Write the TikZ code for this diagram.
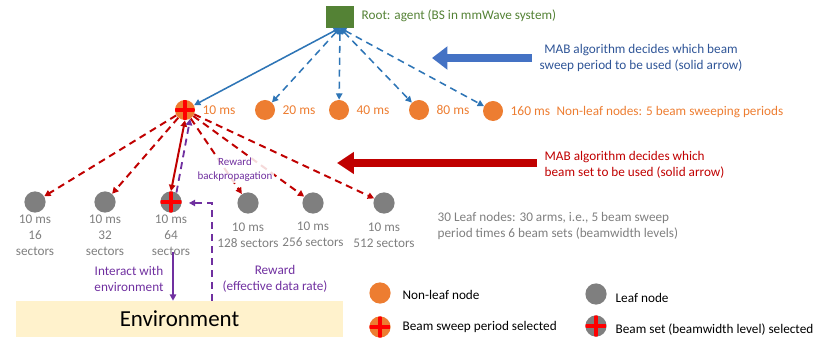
\documentclass[tikz,border=0pt]{standalone}
\usepackage{fontspec}
\setmainfont{Carlito}
\usetikzlibrary{arrows.meta}

\definecolor{rootgreen}{HTML}{548235}
\definecolor{nlorange}{HTML}{ED7D31}
\definecolor{leafgray}{HTML}{7F7F7F}
\definecolor{linkblue}{HTML}{2E75B6}
\definecolor{arrowblue}{HTML}{4472C4}
\definecolor{textblue}{HTML}{2F5597}
\definecolor{mabred}{HTML}{C00000}
\definecolor{rwpurple}{HTML}{7030A0}
\definecolor{envyellow}{HTML}{FFF2CC}

\tikzset{
  period/.style={circle, fill=nlorange, minimum size=0.5cm, inner sep=0pt},
  leaf/.style={circle, fill=leafgray, minimum size=0.53cm, inner sep=0pt},
  chosen/.style={path picture={
      \draw[red, line width=2.2pt]
        (path picture bounding box.north) -- (path picture bounding box.south)
        (path picture bounding box.west) -- (path picture bounding box.east);}},
  txt/.style={font=\fontsize{9.4}{11.4}\selectfont, inner sep=1pt},
  dashlink/.style={dash pattern=on 5pt off 3.5pt},
  bluelink/.style={draw=linkblue, line width=1.1pt,
      {Triangle[length=4.5pt,width=4.5pt]}-{Triangle[length=4.5pt,width=4.5pt]}},
  redlink/.style={draw=mabred, line width=1.4pt, -{Triangle[length=4.5pt,width=4.5pt]}},
  purplelink/.style={draw=rwpurple, line width=1.3pt, -{Triangle[length=4.5pt,width=4.5pt]}},
}

\begin{document}
\begin{tikzpicture}[x=0.025cm, y=-0.025cm]
  \useasboundingbox (0,0) rectangle (822,347);

  % Arrel
  \node[fill=rootgreen, minimum width=0.68cm, minimum height=0.53cm, inner sep=0pt] (root) at (340,17) {};
  \node[txt, text=rootgreen, anchor=west] (rootlbl) at (360,16) {Root: agent (BS in mmWave system)};

  % Nodes no fulla: periodes d'escombrat
  \node[period, chosen] (p10) at (185,110) {};
  \node[period] (p20) at (265,110) {};
  \node[period] (p40) at (339,110) {};
  \node[period] (p80) at (419,110) {};
  \node[period] (p160) at (493,111) {};
  \foreach \p/\t in {p10/10 ms, p20/20 ms, p40/40 ms, p80/80 ms, p160/160 ms}
    \node[txt, font=\fontsize{9.6}{12}\selectfont, text=nlorange, anchor=west, xshift=4pt] (\p lbl) at (\p.east) {\t};
  \node[txt, text=nlorange, anchor=west] (nonleaf) at (555,112) {Non-leaf nodes: 5 beam sweeping periods};

  % Fletxes blaves
  \draw[bluelink] (root.south) -- (p10);
  \foreach \p in {p20, p40, p80, p160}
    \draw[bluelink, dashlink] (root.south) -- (\p);

  \coordinate (bs) at (532,58);
  \coordinate (be) at (432,58);
  \draw[arrowblue, line width=5pt, -{Triangle[length=11pt,width=16pt]}] (bs) -- (be);
  \node[txt, text=textblue, align=center] (bluetxt) at (641,58) {MAB algorithm decides which beam\\sweep period to be used (solid arrow)};

  % Nodes fulla
  \node[leaf] (l16) at (35,202) {};
  \node[leaf] (l32) at (105,202) {};
  \node[leaf, chosen] (l64) at (171,202) {};
  \node[leaf] (l128) at (248,203) {};
  \node[leaf] (l256) at (313,203) {};
  \node[leaf] (l512) at (384,203) {};
  \node[txt, text=leafgray, align=center] (lab16) at (35,235) {10 ms\\16\\sectors};
  \node[txt, text=leafgray, align=center] (lab32) at (105,235) {10 ms\\32\\sectors};
  \node[txt, text=leafgray, align=center] (lab64) at (171,235) {10 ms\\64\\sectors};
  \node[txt, text=leafgray, align=center] (lab128) at (248,235) {10 ms\\128 sectors};
  \node[txt, text=leafgray, align=center] (lab256) at (313,234) {10 ms\\256 sectors};
  \node[txt, text=leafgray, align=center] (lab512) at (384,235) {10 ms\\512 sectors};
  \node[txt, text=leafgray, anchor=west, align=left] (leaftxt) at (436,226) {30 Leaf nodes: 30 arms, i.e., 5 beam sweep\\period times 6 beam sets (beamwidth levels)};

  % Fletxes vermelles
  \foreach \l in {l16, l32, l128, l256, l512}
    \draw[redlink, dashlink] (p10) -- (\l);
  \draw[redlink, {Triangle[length=4.5pt,width=4.5pt]}-{Triangle[length=4.5pt,width=4.5pt]}] (p10.south) -- (l64.north);

  \coordinate (rs) at (537,163);
  \coordinate (re) at (337,163);
  \draw[mabred, line width=6pt, -{Triangle[length=12pt,width=15pt]}] (rs) -- (re);
  \node[txt, text=mabred, anchor=west, align=left] (redtxt) at (543,165) {MAB algorithm decides which\\beam set to be used (solid arrow)};

  % Recompensa
  \node[txt, text=rwpurple, align=center, font=\fontsize{7.8}{10}\selectfont, fill=white, fill opacity=0.85, text opacity=1] (backlbl) at (235,170) {Reward\\backpropagation};
  \draw[purplelink, dashlink] (l64.60) -- (p10.-60);

  % Entorn
  \node[fill=envyellow, minimum width=8.175cm, minimum height=0.9cm, inner sep=0pt, font=\fontsize{16.3}{18}\selectfont] (env) at (179.5,319) {Environment};
  \coordinate (ia) at (173,252);
  \draw[purplelink] (ia) -- (ia |- env.north);
  \coordinate (fb) at (212,203);
  \draw[purplelink, dashlink, shorten >=5pt] (env.north -| fb) -- (fb) -- (fb -| l64.east);
  \node[txt, text=rwpurple, align=center] (interlbl) at (129,279) {Interact with\\environment};
  \node[txt, text=rwpurple, align=center] (rewlbl) at (275,279) {Reward\\(effective data rate)};

  % Llegenda
  \node[period, minimum size=0.53cm] (lg1) at (380,293) {};
  \node[period, minimum size=0.53cm, chosen] (lg2) at (380,327) {};
  \node[leaf] (lg3) at (596,294) {};
  \node[leaf, chosen] (lg4) at (596,326) {};
  \node[txt, anchor=west] (lg1lbl) at (401,295) {Non-leaf node};
  \node[txt, anchor=west] (lg2lbl) at (401,327) {Beam sweep period selected};
  \node[txt, anchor=west] (lg3lbl) at (614,298) {Leaf node};
  \node[txt, anchor=west] (lg4lbl) at (614,330) {Beam set (beamwidth level) selected};
\end{tikzpicture}
\end{document}
